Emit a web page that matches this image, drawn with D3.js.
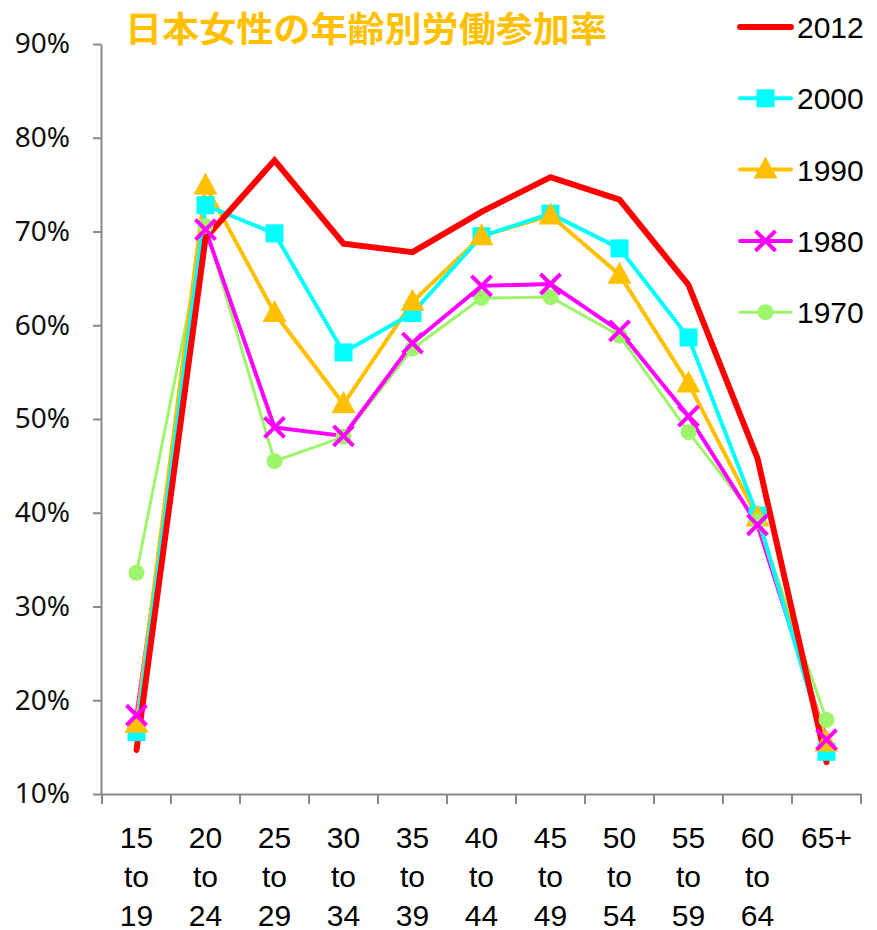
<!DOCTYPE html>
<html>
<head>
<meta charset="utf-8">
<script src="https://cdn.jsdelivr.net/npm/d3@7"></script>
<style>
  body { margin: 0; background: #fff; }
  .axis path, .axis line { stroke: #888; stroke-width: 2; }
</style>
</head>
<body>
<script>
var Width = 877;
var Height = 930;

var Title = "日本女性の年齢別労働参加率";
var Ages = ["15\nto\n19", "20\nto\n24", "25\nto\n29", "30\nto\n34", "35\nto\n39",
            "40\nto\n44", "45\nto\n49", "50\nto\n54", "55\nto\n59", "60\nto\n64", "65+"];
var YTicks = [0.1, 0.2, 0.3, 0.4, 0.5, 0.6, 0.7, 0.8, 0.9];

var Years = ["2012", "2000", "1990", "1980", "1970"];
var Rate2012 = [14.7, 69.3, 77.6, 68.7, 67.8, 72.1, 75.8, 73.4, 64.3, 45.8, 13.4];
var Rate2000 = [16.6, 72.8, 69.8, 57.1, 61.3, 69.5, 71.9, 68.2, 58.7, 39.7, 14.5];
var Rate1990 = [17.5, 74.9, 61.3, 51.6, 62.5, 69.5, 71.7, 65.4, 53.8, 39.5, 15.5];
var Rate1980 = [18.4, 70.2, 49.1, 48.2, 58.1, 64.2, 64.4, 59.4, 50.3, 38.7, 15.8];
var Rate1970 = [33.6, 70.6, 45.5, 48.1, 57.5, 62.9, 63.0, 58.9, 48.6, 39.1, 17.9];

var Styles = {
  "2012": {color: "#ff0000", width: 6, marker: "none"},
  "2000": {color: "#00ffff", width: 4, marker: "square"},
  "1990": {color: "#ffc000", width: 4, marker: "triangle"},
  "1980": {color: "#ff00ff", width: 4, marker: "x"},
  "1970": {color: "#9cf56a", width: 3, marker: "circle"}
};

function main() {
  var series = [
    {year: "2012", values: Rate2012},
    {year: "2000", values: Rate2000},
    {year: "1990", values: Rate1990},
    {year: "1980", values: Rate1980},
    {year: "1970", values: Rate1970}
  ];

  var svg = d3.select("body").append("svg")
    .attr("width", Width)
    .attr("height", Height);

  var xScale = d3.scaleBand().domain(d3.range(Ages.length)).range([102, 861]);
  var yScale = d3.scaleLinear().domain([0.1, 0.9]).range([794, 44]);

  makeAxes(svg, xScale, yScale);

  // lines, oldest first so 2012 ends on top
  var line = d3.line()
    .x(function(d, i) { return xScale(i) + xScale.bandwidth() / 2; })
    .y(function(d) { return yScale(d / 100); });

  series.slice().reverse().forEach(function(s) {
    var st = Styles[s.year];
    svg.append("path")
      .attr("d", line(s.values))
      .attr("fill", "none")
      .attr("stroke", st.color)
      .attr("stroke-width", st.width)
      .attr("stroke-linejoin", "miter")
      .attr("stroke-linecap", "round");
  });

  // markers
  ["2000", "1990", "1970", "1980"].forEach(function(yr) {
    var s = series.filter(function(d) { return d.year == yr; })[0];
    s.values.forEach(function(v, i) {
      drawMarker(svg, Styles[yr], xScale(i) + xScale.bandwidth() / 2, yScale(v / 100));
    });
  });

  makeLegend(svg);

  svg.append("text")
    .attr("x", 125)
    .attr("y", 42)
    .attr("font-family", "'Noto Sans CJK JP', sans-serif")
    .attr("font-weight", "bold")
    .attr("font-size", 35)
    .attr("fill", "#ffc000")
    .attr("textLength", 482)
    .attr("lengthAdjust", "spacingAndGlyphs")
    .text(Title);
}

function drawMarker(svg, st, cx, cy) {
  if (st.marker == "square") {
    svg.append("rect")
      .attr("x", cx - 9).attr("y", cy - 9)
      .attr("width", 18).attr("height", 18)
      .attr("fill", st.color);
  } else if (st.marker == "triangle") {
    svg.append("path")
      .attr("d", "M" + cx + "," + (cy - 13) + "L" + (cx + 12) + "," + (cy + 9) + "L" + (cx - 12) + "," + (cy + 9) + "Z")
      .attr("fill", st.color);
  } else if (st.marker == "x") {
    svg.append("path")
      .attr("d", "M" + (cx - 10) + "," + (cy - 10) + "L" + (cx + 10) + "," + (cy + 10) +
                 "M" + (cx + 10) + "," + (cy - 10) + "L" + (cx - 10) + "," + (cy + 10))
      .attr("stroke", st.color)
      .attr("stroke-width", 4);
  } else if (st.marker == "circle") {
    svg.append("circle")
      .attr("cx", cx).attr("cy", cy).attr("r", 8)
      .attr("fill", st.color);
  }
}

function makeAxes(svg, xScale, yScale) {
  var yAxis = d3.axisLeft(yScale)
    .tickValues(YTicks)
    .tickFormat(d3.format(".0%"))
    .tickSize(8)
    .tickSizeOuter(0);

  var gy = svg.append("g")
    .attr("class", "axis")
    .attr("transform", "translate(101,0)")
    .call(yAxis);
  gy.selectAll("text")
    .attr("x", -31)
    .style("font-family", "'Noto Sans', 'Open Sans', sans-serif")
    .style("font-size", "28px")
    .attr("fill", "#111");

  // x axis: line plus ticks at band boundaries
  var xAxis = d3.axisBottom(xScale).tickSize(0).tickSizeOuter(0).tickFormat("");
  var gx = svg.append("g")
    .attr("class", "axis")
    .attr("transform", "translate(0,794)")
    .call(xAxis);
  gx.selectAll(".tick").remove();

  var bounds = d3.range(Ages.length + 1);
  gx.selectAll("line.bound")
    .data(bounds)
    .enter()
    .append("line")
    .attr("class", "bound")
    .attr("x1", function(d) { return d < Ages.length ? xScale(d) : xScale.range()[1]; })
    .attr("x2", function(d) { return d < Ages.length ? xScale(d) : xScale.range()[1]; })
    .attr("y1", 0)
    .attr("y2", 10);

  var labels = svg.selectAll("text.xlab")
    .data(Ages)
    .enter()
    .append("text")
    .attr("class", "xlab")
    .attr("text-anchor", "middle")
    .attr("font-family", "'Liberation Sans', Arial, sans-serif")
    .attr("font-size", 30)
    .attr("fill", "#000");
  labels.each(function(d, i) {
    var t = d3.select(this);
    d.split("\n").forEach(function(part, k) {
      t.append("tspan")
        .attr("x", xScale(i) + xScale.bandwidth() / 2)
        .attr("y", 848 + k * 39)
        .text(part);
    });
  });
}

function makeLegend(svg) {
  Years.forEach(function(yr, i) {
    var st = Styles[yr];
    var ly = 27 + i * 71.3;
    svg.append("line")
      .attr("x1", 740).attr("x2", 791)
      .attr("y1", ly).attr("y2", ly)
      .attr("stroke", st.color)
      .attr("stroke-width", st.width)
      .attr("stroke-linecap", "round");
    drawMarker(svg, st, 765.5, ly);
    svg.append("text")
      .attr("x", 797)
      .attr("y", ly + 11)
      .attr("font-family", "'Liberation Sans', Arial, sans-serif")
      .attr("font-size", 30)
      .attr("fill", "#000")
      .text(yr);
  });
}

main();
</script>
</body>
</html>
